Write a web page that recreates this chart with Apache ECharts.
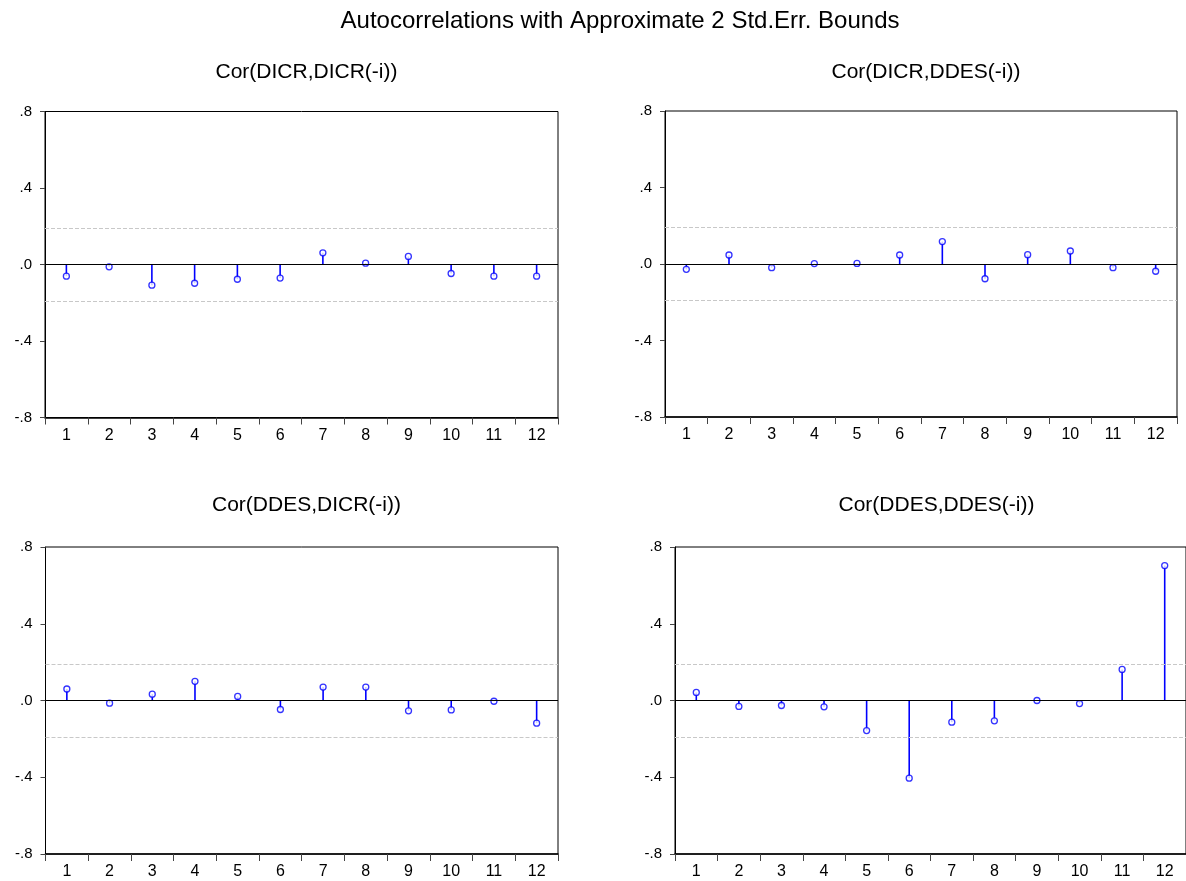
<!DOCTYPE html>
<html>
<head>
<meta charset="utf-8">
<title>Autocorrelations</title>
<script src="https://cdn.jsdelivr.net/npm/echarts@6/dist/echarts.min.js"></script>
<style>
  html, body { margin: 0; padding: 0; background: #fff; }
  #chart { width: 1186px; height: 881px; }
</style>
</head>
<body>
<div id="chart"></div>
<script>
// Lags shown on every panel
const lags = ['1', '2', '3', '4', '5', '6', '7', '8', '9', '10', '11', '12'];

// Cross-correlations by lag
const corDicrDicr = [-0.061, -0.012, -0.108, -0.098, -0.077, -0.071, 0.061, 0.007, 0.042, -0.047, -0.061, -0.061];
const corDicrDdes = [-0.028, 0.047, -0.019, 0.002, 0.003, 0.047, 0.117, -0.077, 0.049, 0.068, -0.019, -0.038];
const corDdesDicr = [0.060, -0.014, 0.033, 0.100, 0.021, -0.047, 0.070, 0.070, -0.054, -0.049, -0.004, -0.118];
const corDdesDdes = [0.042, -0.031, -0.026, -0.033, -0.157, -0.405, -0.113, -0.106, 0.000, -0.016, 0.162, 0.703];

const panelTitles = ['Cor(DICR,DICR(-i))', 'Cor(DICR,DDES(-i))', 'Cor(DDES,DICR(-i))', 'Cor(DDES,DDES(-i))'];
const mainTitle = 'Autocorrelations with Approximate 2 Std.Err. Bounds';

// Approximate two-standard-error band
const stdErrBound = 0.19;

// Y axis range and step
const yMin = -0.8;
const yMax = 0.8;
const yStep = 0.4;

const FONT = "'Liberation Sans', Arial, sans-serif";
const STEM = '#0000ff';

const panels = [
  { data: corDicrDicr, grid: { left: 45, top: 111.5, width: 513, height: 306 }, titleX: 301.5, titleY: 57 },
  { data: corDicrDdes, grid: { left: 665, top: 111, width: 512, height: 306 }, titleX: 921, titleY: 57 },
  { data: corDdesDicr, grid: { left: 45.5, top: 547, width: 512.5, height: 307 }, titleX: 301.5, titleY: 490 },
  { data: corDdesDdes, grid: { left: 675, top: 547, width: 513, height: 307 }, titleX: 931.5, titleY: 490 }
];

function tickText(v) {
  const s = (Math.abs(v) < 1e-9 ? 0 : v).toFixed(1);
  return s.replace('0.', '.');
}

const option = {
  backgroundColor: '#ffffff',
  animation: false,
  textStyle: { fontFamily: FONT },
  title: [
    {
      text: mainTitle, left: 615, top: 4, textAlign: 'center',
      textStyle: { fontFamily: FONT, fontSize: 24, fontWeight: 'normal', color: '#000' }
    }
  ].concat(panels.map((p, i) => ({
    text: panelTitles[i], left: p.titleX, top: p.titleY, textAlign: 'center',
    textStyle: { fontFamily: FONT, fontSize: 21, fontWeight: 'normal', color: '#000' }
  }))),
  grid: panels.map(p => Object.assign({ show: true, borderColor: '#000', borderWidth: 1, backgroundColor: 'transparent' }, p.grid)),
  xAxis: panels.map((p, i) => ({
    type: 'category',
    gridIndex: i,
    data: lags,
    boundaryGap: true,
    axisLine: { show: true, onZero: false, lineStyle: { color: '#000', width: 1.5 } },
    axisTick: { show: true, alignWithLabel: false, length: 7, lineStyle: { color: '#444', width: 1 } },
    axisLabel: { show: true, margin: 10, fontFamily: FONT, fontSize: 16, color: '#000' },
    splitLine: { show: false }
  })),
  yAxis: panels.map((p, i) => ({
    type: 'value',
    gridIndex: i,
    min: yMin,
    max: yMax,
    interval: yStep,
    axisLine: { show: true, lineStyle: { color: '#000', width: 1 } },
    axisTick: { show: true, length: 5, lineStyle: { color: '#444', width: 1 } },
    axisLabel: { show: true, margin: 13, fontFamily: FONT, fontSize: 15, color: '#000', formatter: tickText },
    splitLine: { show: false }
  })),
  series: []
};

panels.forEach((p, i) => {
  // stems from zero to each correlation
  option.series.push({
    type: 'bar',
    xAxisIndex: i,
    yAxisIndex: i,
    data: p.data,
    barWidth: 1.6,
    itemStyle: { color: STEM },
    silent: true,
    z: 3,
    markLine: {
      silent: true,
      symbol: 'none',
      label: { show: false },
      data: [
        { yAxis: 0, lineStyle: { color: '#000', type: 'solid', width: 1.2 } },
        { yAxis: stdErrBound, lineStyle: { color: '#c8c8c8', type: [4, 2], width: 1 } },
        { yAxis: -stdErrBound, lineStyle: { color: '#c8c8c8', type: [4, 2], width: 1 } }
      ]
    }
  });
  // open circles at the tips
  option.series.push({
    type: 'scatter',
    xAxisIndex: i,
    yAxisIndex: i,
    data: p.data,
    symbol: 'circle',
    symbolSize: 6,
    itemStyle: { color: '#ffffff', borderColor: STEM, borderWidth: 1.3 },
    silent: true,
    z: 4
  });
});

const chart = echarts.init(document.getElementById('chart'), null, { renderer: 'canvas' });
chart.setOption(option);
</script>
</body>
</html>
